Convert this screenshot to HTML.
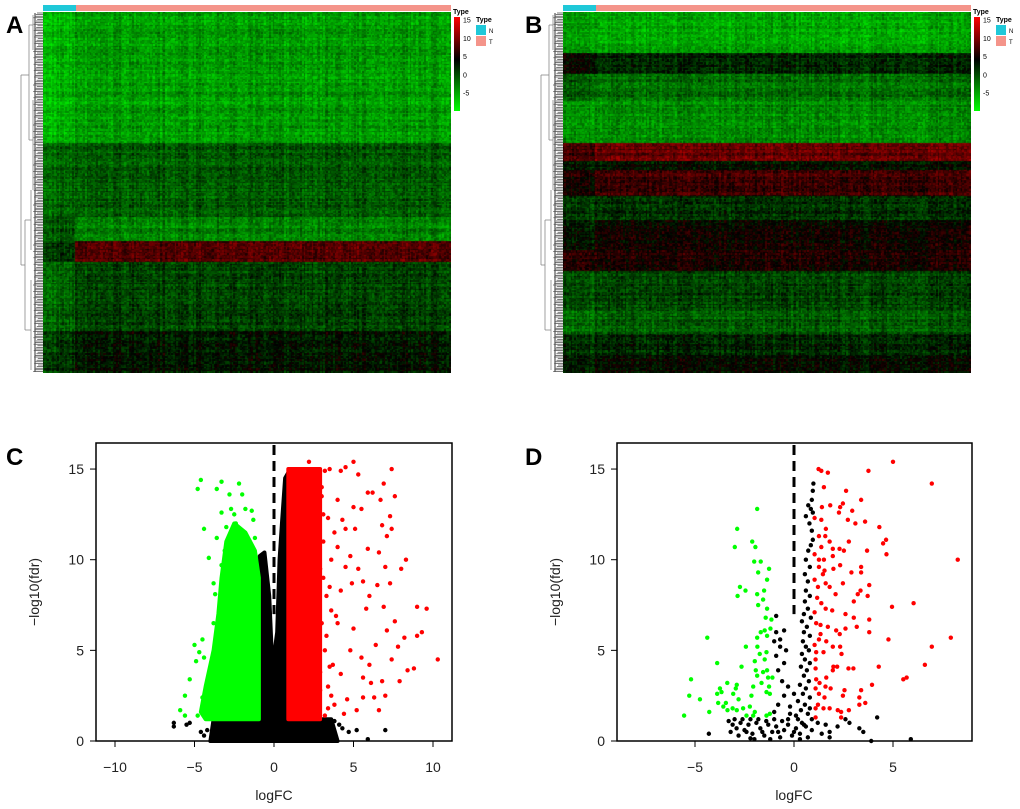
<!DOCTYPE html>
<html><head><meta charset="utf-8">
<style>
body{margin:0;background:#fff;width:1020px;height:809px;overflow:hidden;font-family:"Liberation Sans",Arial,sans-serif;}
#root{position:relative;width:1020px;height:809px;}
canvas,svg{position:absolute;}
.lab{position:absolute;font-weight:bold;font-size:24px;font-family:"Liberation Sans",sans-serif;}
</style></head>
<body><div id="root">
<div class="lab" style="left:6px;top:12px">A</div>
<div class="lab" style="left:525px;top:12px">B</div>
<div class="lab" style="left:6px;top:444px">C</div>
<div class="lab" style="left:525px;top:444px">D</div>
<canvas id="hmA" width="408" height="361" style="left:43px;top:12px"></canvas>
<canvas id="hmB" width="408" height="361" style="left:563px;top:12px"></canvas>
<svg id="ov" width="1020" height="809" style="left:0;top:0"></svg>
</div>
<script>
// ---- heatmap data: gene clusters (gene count, mean value in Normal, mean value in Tumor)
const bandGenesA=[44,25,8,7,23,14];
const bandNA=[-6,-1.5,-0.5,1,-1.5,1];
const bandTA=[-4.5,-0.8,-3,8,0.5,3];
const bandGenesB=[14,7,9,14,6,3,9,8,10,7,13,8,7,6];
const bandNB=[-4.5,4,-1,-4,7,3,5,1,3,6,0,-2,1.5,3];
const bandTB=[-5,2,-2,-3.5,9,3.5,7,1.5,4.5,5.5,0.5,-1,2,4];
const nNormal=20, nTumor=230;
// ---- volcano C
const cRedX=[3.2,3.5,4.2,4.5,5,5.3,7.4,2.2,6.9,7.6,6.7,5.9,6.2,5,5.5,4,3.4,4.3,3.8,4.5,5.1,7.3,6.8,7.4,7.1,6.6,8.3,8.0,7.0,5.3,4.5,3.6,4.9,5.6,6.5,7.3,6.0,5.8,6.9,9,9.6,9.3,9.0,8.2,7.6,7.1,6.4,7.4,7.8,10.3,8.4,8.8,7.9,6.8,6.1,5.6,6.3,7,5.6,6.6,5.2,4.6,4.2,3.7,3.3,4.0,3.6,4.2,3.1,3.4,4.8,5.0,5.5,6.0,3.8,4.4,3.2,4.0,4.8,3.5,5.9,3.0,3.1,2.9,3.3,3.0,3.2,2.9,3.6,3.4,3.9,3.1,3.0,2.9,3.5];
const cRedY=[14.9,15,14.9,15.1,15.4,14.7,15,15.4,14.2,13.5,13.3,13.7,13.7,12.9,12.8,13.3,12.3,12.2,11.5,11.7,11.7,12.4,11.9,11.7,11.3,10.4,10,9.5,9.6,9.5,9.6,10,8.7,8.8,8.6,8.7,8.0,7.3,7.4,7.4,7.3,6,5.8,5.7,6.6,6.1,5.3,4.5,5.2,4.5,3.9,4,3.3,3.3,3.2,3.5,2.4,2.5,2.4,1.7,1.7,2.3,3.7,4.2,5.8,6.5,7.2,8.3,9,3,5,6.2,4.6,4.2,2,1.5,1.4,10.7,10.2,8.5,10.6,13.5,11,9.5,8,6.5,5,3.8,2.5,1.8,6.9,12.5,14,2.8,4.1];
const cGreenX=[-4.6,-4.8,-3.3,-2.2,-3.6,-2.8,-2.0,-3.3,-2.7,-1.8,-4.4,-5,-4.1,-5.3,-5.6,-5.9,-5.6,-4.7,-4.9,-4.4,-4.5,-3.8,-3.4,-3.7,-3.8,-4.2,-4.5,-4.8,-3.3,-3.6,-3,-1.4,-1.3,-2.4,-3.9,-3.3,-4.1,-2.5,-3.1,-1.2];
const cGreenY=[14.4,13.9,14.3,14.2,13.9,13.6,13.6,12.6,12.8,12.8,11.7,5.3,10.1,3.4,2.5,1.7,1.4,4.9,4.4,4.6,5.6,6.5,5.8,8.1,8.7,3.3,2.4,1.4,9.7,11.2,11.8,12.7,12.2,12,4,3.2,2.0,12.5,10.5,11.2];
const cBlackX=[-6.3,-6.3,-5.5,-5.3,-4.6,-4.4,-3.9,5.2,7,5.9,4.3,4.7,3.8,4.1,-4.2,-3.6,3.6];
const cBlackY=[1,0.8,0.9,1.0,0.5,0.3,0.2,0.6,0.6,0.1,0.7,0.5,1.1,0.9,0.6,0.1,0.4];
// envelopes of dense cores (logFC, -log10 fdr)
const cRedCoreX=[0.9,2.9,2.9,0.9];
const cRedCoreY=[1.2,1.2,15,15];
const cGreenCoreX=[-0.95,-0.95,-1.2,-1.8,-2.5,-3.0,-3.3,-3.5,-3.8,-4.3,-4.6,-4.3];
const cGreenCoreY=[1.2,9,10.5,11.5,12,11,9,7,5,3,1.6,1.2];
const cBlackCoreX=[-4.0,4.0,3.6,0.9,0.9,0.7,0.5,0.35,0.2,-0.1,-0.3,-0.6,-0.9,-0.95,-3.8];
const cBlackCoreY=[0,0,1.2,1.2,14.8,14.5,12,10,6,4,8,10.4,10.2,1.2,1.2];
// ---- volcano D
const dRedX=[5.0,3.76,1.24,1.38,1.71,6.96,1.51,2.63,3.39,2.47,2.33,1.83,1.41,2.94,2.27,1.04,3.59,2.72,3.1,1.38,4.31,1.61,1.26,1.58,1.8,2.77,4.65,4.5,4.67,1.38,1.96,2.3,2.52,3.69,1.04,1.96,8.27,1.26,1.51,2.33,3.39,1.26,1.54,1.99,3.39,2.9,1.46,1.04,1.6,2.47,3.8,1.21,1.8,3.36,3.22,2.1,3.72,1.17,1.38,3.02,6.04,4.95,1.6,1.93,1.04,2.6,3.02,3.8,1.12,1.34,1.71,2.13,2.6,3.17,2.31,3.8,1.34,1.26,7.92,4.77,1.63,1.04,1.96,2.33,6.96,1.12,1.49,2.4,1.09,6.61,4.28,1.99,2.18,2.75,3.0,1.09,1.96,1.63,5.69,5.52,1.12,1.29,1.59,3.94,1.09,1.85,3.39,2.55,1.26,2.47,3.3,1.54,3.6,3.3,1.21,1.09,1.49,1.8,2.21,2.38,2.77,1.09,2.38];
const dRedY=[15.4,14.9,15.0,14.9,14.8,14.2,14.0,13.8,13.3,13.1,12.9,13.0,12.9,12.7,12.6,12.3,12.1,12.2,12.0,12.2,11.8,11.7,11.3,11.3,11.0,11.0,11.1,10.9,10.3,10.7,10.6,10.6,10.5,10.5,10.3,10.2,10.0,10.0,10.0,9.7,9.6,9.6,9.4,9.5,9.3,9.3,9.2,8.9,8.7,8.7,8.6,8.5,8.5,8.3,8.1,8.1,8.0,7.9,7.6,7.7,7.6,7.4,7.3,7.2,7.1,7.0,6.8,6.7,6.5,6.4,6.3,6.1,6.2,6.3,5.9,6.0,5.9,5.6,5.7,5.6,5.5,5.3,5.2,5.2,5.2,4.9,4.9,4.8,4.5,4.2,4.1,4.1,4.1,4.0,4.0,4.0,3.9,3.5,3.5,3.4,3.4,3.2,3.0,3.1,2.9,2.9,2.8,2.8,2.6,2.5,2.4,2.4,2.1,2.0,2.0,1.8,1.8,1.8,1.7,1.6,1.7,1.3,1.3];
const dGreenX=[-5.2,-5.55,-5.29,-4.75,-4.38,-4.28,-3.88,-3.74,-3.66,-3.88,-3.37,-3.83,-3.57,-3.36,-3.44,-2.89,-2.94,-3.07,-2.8,-3.1,-2.89,-2.57,-2.23,-1.98,-2.4,-2.06,-1.39,-1.22,-2.87,-1.86,-2.99,-2.11,-1.95,-2.01,-1.68,-1.81,-1.26,-1.36,-2.73,-2.45,-2.85,-1.86,-1.51,-1.56,-1.81,-1.36,-1.43,-1.14,-1.68,-1.48,-1.19,-1.86,-1.36,-2.43,-1.85,-1.39,-1.73,-2.65,-1.98,-1.48,-1.93,-1.56,-1.36,-1.86,-1.31,-1.09,-1.64,-1.26,-2.06,-1.22,-1.39,-2.15];
const dGreenY=[3.4,1.4,2.5,2.3,5.7,1.6,4.3,2.9,2.7,2.6,3.2,2.1,1.9,1.7,2.1,3.1,2.9,2.6,2.3,1.8,1.7,1.8,1.9,1.6,1.4,1.4,1.4,1.5,11.7,12.8,10.7,11.0,10.7,9.9,9.9,9.3,9.5,8.9,8.5,8.3,8.0,8.1,8.3,7.8,7.5,7.3,6.8,6.7,6.0,6.1,6.2,5.7,5.8,5.2,5.2,4.9,4.8,4.1,4.4,4.5,3.9,3.8,3.9,3.6,3.5,3.5,3.2,3.0,3.0,2.6,2.7,2.5];
const dBlackX=[0.98,0.95,0.9,0.72,0.85,0.95,0.6,0.78,0.9,0.95,0.85,0.72,0.6,0.8,0.55,0.7,0.6,0.8,0.55,0.7,0.5,0.85,0.4,0.65,0.5,0.8,0.45,0.6,0.75,0.4,0.55,0.8,0.35,0.65,0.5,0.75,0.3,0.6,0.45,0.8,0.2,0.55,0.35,0.7,0.1,0.9,-0.2,0.0,-0.3,-0.5,-0.6,-0.8,-0.5,-0.9,-1.0,-0.7,-0.9,-0.5,-0.9,-0.7,-0.4,-0.8,-1.0,-0.3,-3.3,-3.1,-2.9,-2.7,-2.5,-2.3,-2.1,-1.9,-1.7,-1.5,-1.3,-1.1,-0.9,-0.7,-0.5,-0.3,-0.1,0.1,0.3,0.5,0.7,0.9,-2.8,-2.0,-1.2,-3.0,-2.6,-2.2,-1.8,-1.4,-1.0,-0.6,-4.3,-2.2,1.2,1.6,1.8,1.8,2.2,2.6,2.8,3.3,3.5,4.2,3.9,5.9,1.4,-3.2,-2.4,-1.6,-0.8,0.0,0.4,-0.2,0.2,0.6,0.8,0.3];
const dBlackY=[14.2,13.8,13.3,13.0,12.8,12.6,12.4,12.0,11.6,11.1,10.8,10.5,10.0,9.6,9.2,8.8,8.3,8.0,7.7,7.3,7.0,6.8,6.6,6.3,6.0,5.8,5.5,5.2,5.0,4.8,4.5,4.3,4.1,3.9,3.6,3.3,3.1,2.9,2.6,2.4,2.2,2.0,1.7,1.5,1.4,1.2,1.9,2.6,3.0,2.5,3.3,3.9,4.3,4.7,5.5,5.2,6.0,6.1,6.9,5.6,5.0,2.0,1.6,1.2,1.1,0.9,0.7,1.0,0.6,0.9,0.4,1.0,0.7,0.3,0.9,0.5,0.8,0.2,0.6,0.9,0.3,0.7,0.4,0.9,0.2,0.6,0.3,0.1,0.1,1.2,1.2,1.2,1.2,1.1,1.2,1.1,0.4,0.15,1.0,0.9,0.5,0.2,0.8,1.2,1.0,0.7,0.5,1.3,0.0,0.1,0.4,0.5,0.5,0.5,0.5,0.5,1.0,1.5,1.2,0.8,1.8,0.1];
const yTicks=[0,5,10,15];
const cXTicks=[-10,-5,0,5,10];
const dXTicks=[-5,0,5];
const legendTicks=[15,10,5,0,-5];

// ---------- heatmaps
function hash(a,b,s){let h=(a*374761393+b*668265263+s*982451653)|0;h=(h^(h>>>13))*1274126177|0;h=h^(h>>>16);return ((h>>>0)%10000)/10000;}
function col(v){v=Math.max(-9,Math.min(15,v));if(v<4){const g=Math.round((4-v)/13*235);return 'rgb(0,'+Math.min(255,g)+',0)';}const r=Math.round((v-4)/11*220);return 'rgb('+Math.min(255,r)+',0,0)';}
function drawHeat(id,genes,nv,tv,seed){
  const cv=document.getElementById(id),ctx=cv.getContext('2d');
  const W=cv.width,H=cv.height,nc=nNormal+nTumor;
  const tot=genes.reduce((a,b)=>a+b,0);const nr=tot*2;
  const cw=W/nc,rh=H/nr;
  const colEff=[];for(let c=0;c<nc;c++)colEff.push((hash(c,0,seed+7)-0.5)*2.5);
  let r=0;
  genes.forEach((g,bi)=>{
    for(let k=0;k<g*2;k++,r++){
      const rowEff=(hash(r,1,seed+3)-0.5)*2;
      const y0=Math.floor(r*rh),y1=Math.floor((r+1)*rh);
      for(let c=0;c<nc;c++){
        const base=c<nNormal?nv[bi]:tv[bi];
        const v=base+colEff[c]+rowEff+(hash(r,c,seed)-0.5)*4;
        ctx.fillStyle=col(v);
        const x0=Math.floor(c*cw),x1=Math.floor((c+1)*cw);
        ctx.fillRect(x0,y0,Math.max(1,x1-x0),Math.max(1,y1-y0));
      }
    }
  });
}
drawHeat('hmA',bandGenesA,bandNA,bandTA,11);
drawHeat('hmB',bandGenesB,bandNB,bandTB,29);

const NS='http://www.w3.org/2000/svg';const ov=document.getElementById('ov');
function mk(tag,attrs,parent){const e=document.createElementNS(NS,tag);for(const k in attrs)e.setAttribute(k,attrs[k]);(parent||ov).appendChild(e);return e;}

function heatDecor(x0,name){
  const g=mk('g',{});
  
  
  const nb=mk('rect',{x:x0,y:5,width:33,height:6,fill:'#1fc8d8'},g);
  
  
  const tb=mk('rect',{x:x0+33,y:5,width:375,height:6,fill:'#f4948a'},g);
  
  
  const dg=mk('g',{stroke:'#888','stroke-width':0.8,fill:'none'},g);
  
  
  const d=[[x0-22,75,x0-22,265],[x0-22,75,x0-14,75],[x0-22,265,x0-18,265],[x0-14,25,x0-14,140],[x0-18,220,x0-18,330],[x0-14,25,x0-10,25],[x0-14,140,x0-10,140],[x0-18,220,x0-12,220],[x0-18,330,x0-12,330],[x0-10,15,x0-10,50],[x0-10,100,x0-10,190],[x0-12,190,x0-12,250],[x0-12,280,x0-12,370]];
  d.forEach(l=>mk('line',{x1:l[0],y1:l[1],x2:l[2],y2:l[3]},dg));
  for(let y=13;y<373;y+=1.6){const len=3+((y*7)%5);mk('line',{x1:x0-len-2,y1:y,x2:x0,y2:y,stroke:'#222','stroke-width':0.6},dg);}
  mk('line',{x1:x0-8,y1:13,x2:x0-8,y2:372,stroke:'#555','stroke-width':1.2},dg);
  const lx=x0+411;
  const defs=mk('defs',{},g);
  const gr=mk('linearGradient',{id:'lg'+name,x1:0,y1:0,x2:0,y2:1},defs);
  mk('stop',{offset:'0','stop-color':'#ff0000'},gr);mk('stop',{offset:'0.45','stop-color':'#000000'},gr);mk('stop',{offset:'1','stop-color':'#00ff00'},gr);
  const cb=mk('rect',{x:lx,y:17,width:6,height:94,fill:'url(#lg'+name+')'},g);
  
  
  let t=mk('text',{x:lx-1,y:14,'font-size':7,'font-weight':'bold'},g);t.textContent='Type';
  legendTicks.forEach(v=>{const yy=20+(15-v)/20*73;const tt=mk('text',{x:lx+9,y:yy+2.5,'font-size':7},g);tt.textContent=v;
    
    });
  t=mk('text',{x:lx+22,y:22,'font-size':7,'font-weight':'bold'},g);t.textContent='Type';
  mk('rect',{x:lx+22,y:25,width:10,height:10,fill:'#1fc8d8'},g);
  mk('rect',{x:lx+22,y:36,width:10,height:10,fill:'#f4948a'},g);
  t=mk('text',{x:lx+35,y:33,'font-size':6},g);t.textContent='N';
  t=mk('text',{x:lx+35,y:44,'font-size':6},g);t.textContent='T';
}
heatDecor(43,'heatmap-a');heatDecor(563,'heatmap-b');

function volcano(opt){
  const {bx,bw,x0,ux,name,xt}=opt;
  const by=443,bh=298,y0=741,uy=18.13;
  const sx=v=>x0+v*ux, sy=v=>y0-v*uy;
  const g=mk('g',{});
  
  
  const poly=(xs,ys,fill,nm)=>{const p=mk('polygon',{points:xs.map((x,i)=>sx(x)+','+sy(ys[i])).join(' '),fill:fill,stroke:fill,'stroke-width':4,'stroke-linejoin':'round'},g);
    
    };
  if(opt.cores){poly(cBlackCoreX,cBlackCoreY,'#000','core-ns');poly(cGreenCoreX,cGreenCoreY,'#00ff00','core-down');poly(cRedCoreX,cRedCoreY,'#ff0000','core-up');}
  const pts=(xs,ys,fill,nm)=>xs.forEach((x,i)=>{if(ys[i]===undefined)return;const c=mk('circle',{cx:sx(x),cy:sy(ys[i]),r:2.2,fill:fill},g);
    
    });
  pts(opt.bx_,opt.by_,'#000','point-ns');pts(opt.gx,opt.gy,'#00ff00','point-down');pts(opt.rx,opt.ry,'#ff0000','point-up');
  const dl=mk('line',{x1:sx(0),y1:by+2,x2:sx(0),y2:sy(7),stroke:'#000','stroke-width':3,'stroke-dasharray':'10,6'},g);
  
  
  const fr=mk('rect',{x:bx,y:by,width:bw,height:bh,fill:'none',stroke:'#000','stroke-width':1.5},g);
  
  
  yTicks.forEach(v=>{mk('line',{x1:bx-6,y1:sy(v),x2:bx,y2:sy(v),stroke:'#000','stroke-width':1},g);
    const t=mk('text',{x:bx-12,y:sy(v)+5,'font-size':14,'text-anchor':'end',fill:'#222'},g);t.textContent=v;
    
    });
  xt.forEach(v=>{mk('line',{x1:sx(v),y1:y0,x2:sx(v),y2:y0+6,stroke:'#000','stroke-width':1},g);
    const t=mk('text',{x:sx(v),y:772,'font-size':14,'text-anchor':'middle',fill:'#222'},g);t.textContent=(v<0?'\u2212'+(-v):v);
    
    });
  let t=mk('text',{x:sx(0),y:800,'font-size':14,'text-anchor':'middle',fill:'#222'},g);t.textContent='logFC';
  
  
  const yx=bx-57;
  t=mk('text',{x:yx,y:592,'font-size':14,'text-anchor':'middle',fill:'#222',transform:'rotate(-90 '+yx+' 592)'},g);t.textContent='\u2212log10(fdr)';
  
  
}
volcano({bx:96,bw:356,x0:274,ux:15.9,name:'volcano-c',xt:cXTicks,cores:true,rx:cRedX,ry:cRedY,gx:cGreenX,gy:cGreenY,bx_:cBlackX,by_:cBlackY});
volcano({bx:617,bw:355,x0:794,ux:19.8,name:'volcano-d',xt:dXTicks,cores:false,rx:dRedX,ry:dRedY,gx:dGreenX,gy:dGreenY,bx_:dBlackX,by_:dBlackY});
</script>
</body></html>
